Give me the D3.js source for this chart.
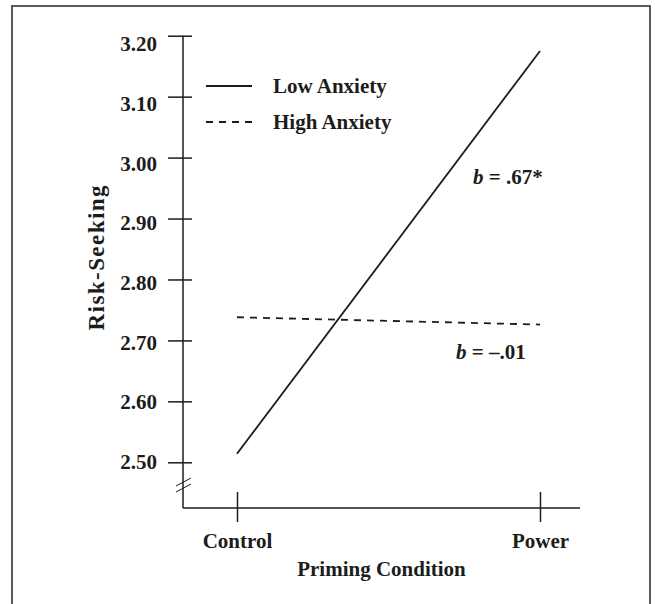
<!DOCTYPE html>
<html>
<head>
<meta charset="utf-8">
<title>Risk-Seeking by Priming Condition</title>
<script src="https://d3js.org/d3.v7.min.js"></script>
<style>
  body { margin: 0; background: #fff; }
  svg text { font-family: "Liberation Serif", "Times New Roman", serif; font-weight: bold; fill: #1c1c1c; }
</style>
</head>
<body>
<script>
  // values
  var conditions = ["Control", "Power"];
  var lowAnxiety = [2.514, 3.175];
  var highAnxiety = [2.738, 2.726];
  var yTicks = [2.5, 2.6, 2.7, 2.8, 2.9, 3.0, 3.1, 3.2];
  var seriesNames = ["Low Anxiety", "High Anxiety"];
  var slopes = ["= .67*", "= \u2013.01"];

  var width = 655, height = 604;
  var ink = "#1c1c1c";

  var svg = d3.select("body").append("svg")
      .attr("width", width)
      .attr("height", height);

  // frame around the figure (runs off the bottom)
  svg.append("rect")
      .attr("x", 12).attr("y", 6)
      .attr("width", 638).attr("height", 640)
      .attr("fill", "none")
      .attr("stroke", "#4a4a4a")
      .attr("stroke-width", 1.8);

  var axisX = 183, baseY = 508, axisEnd = 580;

  var y = d3.scaleLinear().domain([2.5, 3.2]).range([462.3, 35.7]);
  // labels in the scan drift a little below their ticks near the top
  var yLabel = d3.scaleLinear().domain([2.5, 3.2]).range([462, 44]);
  var x = d3.scalePoint().domain(conditions).range([237, 540]);

  // y axis
  var yAxis = svg.append("g")
      .attr("transform", "translate(" + axisX + ",0)")
      .call(d3.axisLeft(y).tickValues(yTicks).tickSize(0).tickFormat(""));
  yAxis.select(".domain").remove();
  yAxis.selectAll(".tick line")
      .attr("x1", -15).attr("x2", 9)
      .attr("stroke", ink).attr("stroke-width", 1.5);

  svg.append("line")
      .attr("x1", axisX).attr("x2", axisX)
      .attr("y1", y(3.2)).attr("y2", baseY)
      .attr("stroke", ink).attr("stroke-width", 1.5);

  svg.selectAll(".ylab")
      .data(yTicks)
    .enter().append("text")
      .attr("class", "ylab")
      .attr("x", 157)
      .attr("y", function(d) { return yLabel(d); })
      .attr("dy", "0.34em")
      .attr("text-anchor", "end")
      .style("font-size", "21px")
      .text(function(d) { return d.toFixed(2); });

  // axis break marks
  [0, 6].forEach(function(off) {
    svg.append("line")
        .attr("x1", 176).attr("y1", 486 + off)
        .attr("x2", 191).attr("y2", 478 + off)
        .attr("stroke", ink).attr("stroke-width", 1);
  });

  // x axis
  svg.append("line")
      .attr("x1", axisX).attr("x2", axisEnd)
      .attr("y1", baseY).attr("y2", baseY)
      .attr("stroke", ink).attr("stroke-width", 1.5);

  var xAxis = svg.append("g")
      .attr("transform", "translate(0," + baseY + ")")
      .call(d3.axisBottom(x).tickSize(0).tickPadding(0));
  xAxis.select(".domain").remove();
  xAxis.selectAll(".tick line")
      .attr("y1", -16).attr("y2", 14)
      .attr("stroke", ink).attr("stroke-width", 1.5);
  xAxis.selectAll(".tick text")
      .attr("y", 40).attr("dy", 0)
      .attr("fill", ink)
      .style("font-size", "21px")
      .style("font-family", "'Liberation Serif', 'Times New Roman', serif")
      .style("font-weight", "bold");

  svg.append("text")
      .attr("x", (axisX + axisEnd) / 2)
      .attr("y", 576)
      .attr("text-anchor", "middle")
      .style("font-size", "21px")
      .text("Priming Condition");

  svg.append("text")
      .attr("transform", "translate(104,258) rotate(-90)")
      .attr("text-anchor", "middle")
      .attr("textLength", 145)
      .attr("lengthAdjust", "spacing")
      .style("font-size", "23px")
      .text("Risk-Seeking");

  // lines
  var line = d3.line()
      .x(function(d, i) { return x(conditions[i]); })
      .y(function(d) { return y(d); });

  svg.append("path")
      .datum(lowAnxiety)
      .attr("d", line)
      .attr("fill", "none")
      .attr("stroke", ink)
      .attr("stroke-width", 1.8);

  svg.append("path")
      .datum(highAnxiety)
      .attr("d", line)
      .attr("fill", "none")
      .attr("stroke", ink)
      .attr("stroke-width", 1.8)
      .attr("stroke-dasharray", "7,6");

  // legend
  var legend = svg.append("g");
  seriesNames.forEach(function(name, i) {
    var ly = 86 + i * 36;
    legend.append("line")
        .attr("x1", 206).attr("x2", 252)
        .attr("y1", ly).attr("y2", ly)
        .attr("stroke", ink)
        .attr("stroke-width", i ? 1.8 : 2.2)
        .attr("stroke-dasharray", i ? "7,6" : null);
    legend.append("text")
        .attr("x", 273).attr("y", ly)
        .attr("dy", "0.34em")
        .style("font-size", "21px")
        .text(name);
  });

  // slope annotations
  var notes = [[473, 184], [456, 359]];
  notes.forEach(function(p, i) {
    var t = svg.append("text")
        .attr("x", p[0]).attr("y", p[1])
        .style("font-size", "21px");
    t.append("tspan").style("font-style", "italic").text("b");
    t.append("tspan").text(" " + slopes[i]);
  });
</script>
</body>
</html>
